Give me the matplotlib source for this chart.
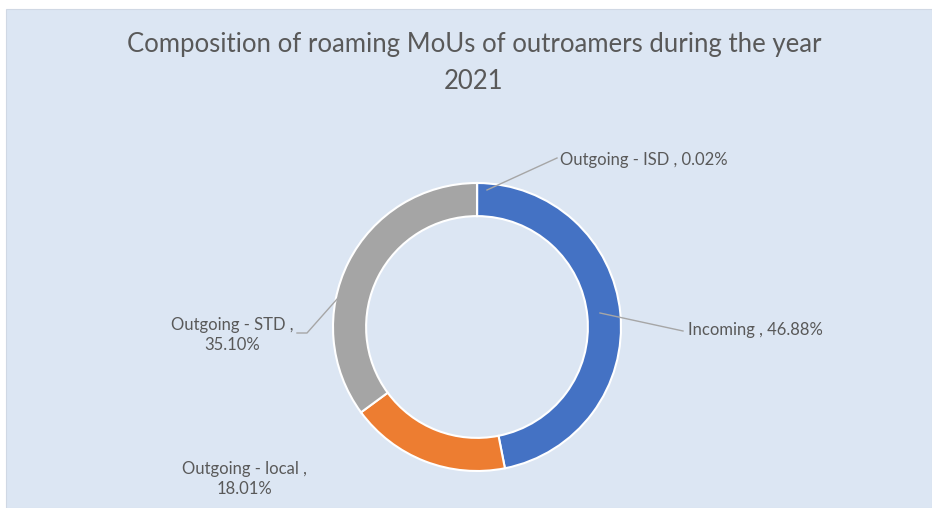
import numpy as np
import matplotlib
matplotlib.use('Agg')
import matplotlib.pyplot as plt
from matplotlib.patches import Rectangle

# Data
categories = ['Outgoing - ISD', 'Incoming', 'Outgoing - local', 'Outgoing - STD']
shares = [0.02, 46.88, 18.01, 35.10]
colors = ['#FFC000', '#4472C4', '#ED7D31', '#A5A5A5']
title = 'Composition of roaming MoUs of outroamers during the year\n2021'

W, H = 932, 508
plt.rcParams['font.family'] = ['Lato', 'DejaVu Sans']
text_color = '#595959'

fig = plt.figure(figsize=(W / 100, H / 100), dpi=100, facecolor='white')
ax = fig.add_axes([0, 0, 1, 1])

# chart area background
ax.add_patch(Rectangle((6, 0), W - 6, H - 9, facecolor='#DCE6F3',
                       edgecolor='#D0D8E4', linewidth=0.8, zorder=0))

# donut, pixel coordinates (y measured from the bottom)
cx, cy, r = 477, H - 327, 144
ax.pie(shares, colors=colors, startangle=90, counterclock=False,
       radius=r, center=(cx, cy), frame=True,
       wedgeprops=dict(width=r * 0.23, edgecolor='white', linewidth=1.5))
ax.set_xlim(0, W)
ax.set_ylim(0, H)
ax.set_aspect('equal')
ax.axis('off')

ax.text(W / 2 + 8, H - 63, title, ha='center', va='center', fontsize=18.5,
        color=text_color, linespacing=1.6)

labels = [f'{c} , {v:.2f}%' for c, v in zip(categories, shares)]
lc = '#A6A6A6'
fs = 12

# Outgoing - ISD
ax.plot([487, 557], [H - 190, H - 158], color=lc, lw=1)
ax.text(560, H - 160, labels[0], ha='left', va='center', fontsize=fs, color=text_color)

# Incoming
ax.plot([600, 683], [H - 313, H - 331], color=lc, lw=1)
ax.text(688, H - 330, labels[1], ha='left', va='center', fontsize=fs, color=text_color)

# Outgoing - STD
ax.plot([297, 307, 338], [H - 333, H - 333, H - 298], color=lc, lw=1)
ax.text(232, H - 335, f'{categories[3]} ,\n{shares[3]:.2f}%', ha='center', va='center',
        fontsize=fs, color=text_color, linespacing=1.3)

# Outgoing - local
ax.text(244, H - 479, f'{categories[2]} ,\n{shares[2]:.2f}%', ha='center', va='center',
        fontsize=fs, color=text_color, linespacing=1.3)

fig.savefig('out.png', dpi=100, facecolor='white')
